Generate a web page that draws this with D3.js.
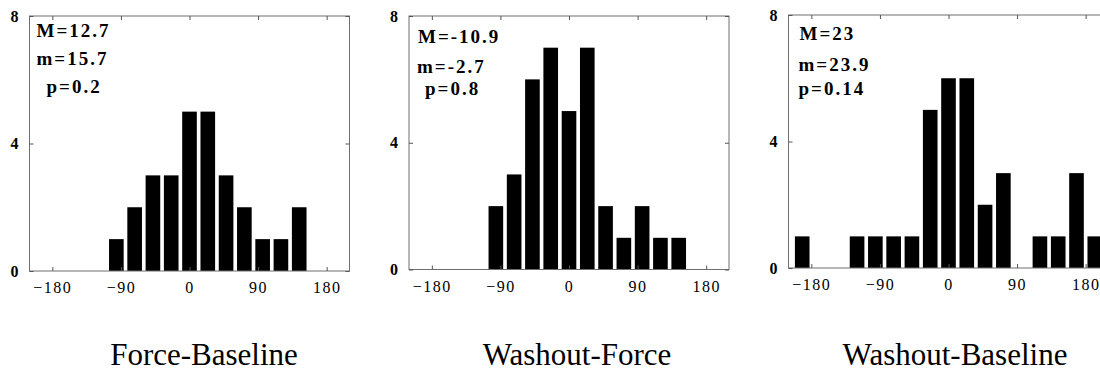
<!DOCTYPE html>
<html>
<head>
<meta charset="utf-8">
<script src="https://cdn.jsdelivr.net/npm/d3@7"></script>
<style>
  body { margin: 0; background: #fff; }
  svg { display: block; }
</style>
</head>
<body>
<div id="chart"></div>
<script>
// bin centres in degrees (24 deg bins)
const binCenters = [-192, -168, -144, -120, -96, -72, -48, -24, 0, 24, 48, 72, 96, 120, 144, 168, 192];
const binWidth = 24;

// counts per bin
const forceBaseline   = [0, 0, 0, 0, 1, 2, 3, 3, 5, 5, 3, 2, 1, 1, 2, 0, 0];
const washoutForce    = [0, 0, 0, 0, 2, 3, 6, 7, 5, 7, 2, 1, 2, 1, 1, 0, 0];
const washoutBaseline = [1, 0, 0, 1, 1, 1, 1, 5, 6, 6, 2, 3, 0, 1, 1, 3, 1];

const statsForceBaseline   = ["M=12.7", "m=15.7", "p=0.2"];
const statsWashoutForce    = ["M=-10.9", "m=-2.7", "p=0.8"];
const statsWashoutBaseline = ["M=23", "m=23.9", "p=0.14"];

const titles = ["Force-Baseline", "Washout-Force", "Washout-Baseline"];

const angleTicks = [-180, -90, 0, 90, 180];
const countTicks = [0, 4, 8];

// layout per panel
const panels = [
  { title: titles[0], counts: forceBaseline, stats: statsForceBaseline,
    left: 29.5, top: 16, bottom: 271, statX: [7, 7, 17], statY: [37, 65, 93], titleX: 204 },
  { title: titles[1], counts: washoutForce, stats: statsWashoutForce,
    left: 409, top: 16, bottom: 269.5, statX: [9, 8, 16], statY: [43, 73, 95], titleX: 577 },
  { title: titles[2], counts: washoutBaseline, stats: statsWashoutBaseline,
    left: 788.5, top: 15, bottom: 268, statX: [11, 10, 10], statY: [40, 71, 95], titleX: 955 }
];

const W = 1100, H = 373;
const plotW = 320;
const serif = "'Liberation Serif', 'Times New Roman', serif";

const svg = d3.select("#chart").append("svg")
  .attr("width", W)
  .attr("height", H);

panels.forEach(p => {
  const h = p.bottom - p.top;
  const g = svg.append("g").attr("transform", `translate(${p.left},${p.top})`);

  const x = d3.scaleLinear().domain([-210, 210]).range([0, plotW]);
  const y = d3.scaleLinear().domain([0, 8]).range([h, 0]);

  // bars
  const bins = binCenters.map((c, i) => ({ c: c, v: p.counts[i] })).filter(d => d.v > 0);
  g.selectAll("rect.bar")
    .data(bins)
    .enter().append("rect")
    .attr("class", "bar")
    .attr("x", d => x(d.c - binWidth * 0.4))
    .attr("width", d => x(d.c + binWidth * 0.4) - x(d.c - binWidth * 0.4))
    .attr("y", d => y(d.v))
    .attr("height", d => y(0) - y(d.v))
    .attr("fill", "#000");

  // frame
  g.append("rect")
    .attr("width", plotW)
    .attr("height", h)
    .attr("fill", "none")
    .attr("stroke", "#6f6f6f")
    .attr("stroke-width", 1);

  // x axis (bottom, labelled)
  const xb = g.append("g")
    .attr("transform", `translate(0,${h})`)
    .call(d3.axisBottom(x).tickValues(angleTicks).tickSizeInner(-4).tickSizeOuter(0).tickPadding(11));
  xb.select(".domain").remove();
  xb.selectAll("line").attr("stroke", "#555");
  xb.selectAll("text")
    .attr("font-family", serif)
    .attr("font-size", 16)
    .attr("letter-spacing", "1.5px")
    .attr("fill", "#000");

  // x ticks on top
  const xt = g.append("g")
    .call(d3.axisTop(x).tickValues(angleTicks).tickSizeInner(-4).tickSizeOuter(0).tickFormat(""));
  xt.select(".domain").remove();
  xt.selectAll("line").attr("stroke", "#555");

  // y axis (left, labelled)
  const yl = g.append("g")
    .call(d3.axisLeft(y).tickValues(countTicks).tickSizeInner(-4).tickSizeOuter(0).tickPadding(11));
  yl.select(".domain").remove();
  yl.selectAll("line").attr("stroke", "#555");
  yl.selectAll("text")
    .attr("font-family", serif)
    .attr("font-size", 16)
    .attr("font-weight", "bold")
    .attr("fill", "#000");

  // y ticks on right
  const yr = g.append("g")
    .attr("transform", `translate(${plotW},0)`)
    .call(d3.axisRight(y).tickValues(countTicks).tickSizeInner(-4).tickSizeOuter(0).tickFormat(""));
  yr.select(".domain").remove();
  yr.selectAll("line").attr("stroke", "#555");

  // stats text
  g.selectAll("text.stat")
    .data(p.stats)
    .enter().append("text")
    .attr("class", "stat")
    .attr("x", (d, i) => p.statX[i])
    .attr("y", (d, i) => p.statY[i] - p.top)
    .attr("font-family", serif)
    .attr("font-size", 19)
    .attr("font-weight", "bold")
    .attr("letter-spacing", "2px")
    .text(d => d);

  // panel title
  svg.append("text")
    .attr("x", p.titleX)
    .attr("y", 365)
    .attr("text-anchor", "middle")
    .attr("font-family", serif)
    .attr("font-size", 31)
    .text(p.title);
});
</script>
</body>
</html>
